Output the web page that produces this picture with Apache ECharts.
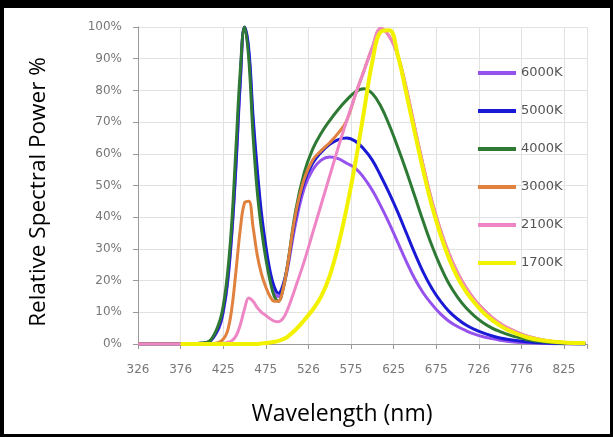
<!DOCTYPE html>
<html>
<head>
<meta charset="utf-8">
<script src="https://cdn.jsdelivr.net/npm/echarts@6/dist/echarts.min.js"></script>
<style>
  html, body { margin: 0; padding: 0; background: #fff; }
  #chart { position: absolute; left: 0; top: 0; width: 613px; height: 437px; }
  #frame { position: absolute; left: 0; top: 0; width: 613px; height: 437px; box-sizing: border-box;
           border-style: solid; border-color: #000; border-width: 8px 3px 3px 4px; pointer-events: none; }
</style>
</head>
<body>
<div id="chart"></div>
<div id="frame"></div>
<script>
"use strict";
// wavelengths (nm) shared by all curves
var wavelengths = [325, 350, 375, 400, 410, 420, 425, 430, 435, 440, 445, 450, 455, 460, 465, 470, 475, 480, 485, 490, 495, 500,
  510, 520, 530, 540, 550, 560, 570, 580, 590, 600, 610, 620, 630, 640, 650, 660, 670, 680, 690, 700,
  710, 720, 730, 740, 750, 760, 780, 800, 825, 850];

var k6000 = [0, 0, 0, 0.2, 1, 5, 10, 19, 34, 56, 82, 100, 92, 70, 53, 39, 29, 21, 16, 15, 17.5, 23,
  38, 49, 55, 58, 59, 58.5, 57, 55.5, 52.5, 48.5, 43.5, 38, 32, 26, 20.5, 16, 12.5, 9.5, 7.2, 5.5,
  4.2, 3.1, 2.3, 1.7, 1.2, 0.8, 0.4, 0.2, 0.05, 0];
var k5000 = [0, 0, 0, 0.2, 1, 5.5, 10.5, 19.5, 35, 57, 83, 100, 93, 72, 55, 41, 31, 23, 18, 16, 18.5, 24,
  40, 51, 57, 60.5, 63, 64.5, 65, 64, 61.5, 58, 53, 47.5, 41.5, 35, 28.5, 22.5, 17.5, 13.5, 10.3, 7.9,
  6, 4.6, 3.5, 2.6, 1.9, 1.4, 0.7, 0.3, 0.1, 0];
var k4000 = [0, 0, 0, 0.3, 1.2, 6.5, 12, 22, 38, 62, 86, 100, 90, 66, 48, 36, 27, 20, 15, 13.5, 17, 24,
  42, 54, 61.5, 66.5, 70.5, 74, 77, 79.5, 80.5, 79, 75, 69, 62, 54.5, 46.5, 38.5, 31, 24.5, 19, 14.8,
  11.4, 8.8, 6.7, 5.1, 3.9, 2.9, 1.5, 0.7, 0.2, 0];
var k3000 = [0, 0, 0, 0, 0, 0.5, 1.5, 4, 11, 23, 36, 44.5, 45, 37, 28, 22, 18, 15, 13.5, 13.5, 17, 24,
  41, 52, 58, 61, 63.5, 66.5, 70.5, 78.5, 86, 93.5, 99.5, 97, 91, 80.5, 68, 56, 45, 36, 28.5, 22.5,
  17.8, 14, 11, 8.5, 6.5, 4.9, 2.6, 1.3, 0.5, 0.3];
var k2100 = [0, 0, 0, 0, 0, 0, 0.2, 0.5, 1, 2.5, 6, 11, 14.5, 13.5, 11.5, 10, 9, 8, 7.2, 7, 8, 10.5,
  18, 26, 35, 44, 53, 62, 70.5, 78.5, 86, 93.5, 99.5, 97, 91, 80.5, 68, 56, 45, 36, 28.5, 22.5,
  17.8, 14, 11, 8.5, 6.5, 4.9, 2.6, 1.3, 0.5, 0.3];
var k1700 = [null, null, 0, 0, 0, 0, 0, 0, 0, 0, 0, 0, 0, 0, 0, 0.2, 0.3, 0.5, 0.7, 1, 1.5, 2.2,
  4.5, 7.5, 10.8, 15, 21.5, 31, 43, 57, 73, 89, 98.5, 99, 91, 79, 66.5, 54.5, 43.5, 34.5, 27, 21,
  16.5, 13, 10, 7.7, 5.8, 4.3, 2.2, 1.1, 0.5, 0.3];

var seriesNames = ['6000K', '5000K', '4000K', '3000K', '2100K', '1700K'];
var seriesValues = [k6000, k5000, k4000, k3000, k2100, k1700];
var seriesColors = ['#9652ee', '#1a1ad6', '#2e7a34', '#e0813e', '#ee86c6', '#f2f200'];
var seriesWidths = [3, 3, 3, 3, 3, 4];

var xTickLabels = ['326', '376', '425', '475', '526', '575', '625', '675', '726', '776', '825'];

function pairs(vals) {
  var out = [];
  for (var i = 0; i < wavelengths.length; i++) {
    if (vals[i] !== null) out.push([wavelengths[i], vals[i]]);
  }
  return out;
}

var chart = echarts.init(document.getElementById('chart'), null, {renderer: 'canvas'});

var series = seriesNames.map(function (name, i) {
  return {
    name: name,
    type: 'line',
    data: pairs(seriesValues[i]),
    smooth: 0.4,
    symbol: 'none',
    color: seriesColors[i],
    lineStyle: {width: seriesWidths[i], color: seriesColors[i]}
  };
});

var option = {
  animation: false,
  grid: {left: 138, top: 27, right: 26, bottom: 93},
  legend: {
    orient: 'vertical',
    left: 478,
    top: 66,
    padding: 0,
    icon: 'rect',
    itemWidth: 38,
    itemHeight: 4,
    itemGap: 24,
    textStyle: {color: '#555', fontSize: 13, lineHeight: 14, fontFamily: 'DejaVu Sans'},
    data: seriesNames
  },
  xAxis: {
    type: 'value',
    min: 325,
    max: 852,
    interval: 50,
    axisLine: {lineStyle: {color: '#999'}},
    axisTick: {show: true, length: 5, lineStyle: {color: '#999'}},
    axisLabel: {
      color: '#777', fontSize: 12, fontFamily: 'DejaVu Sans', margin: 20,
      formatter: function (v) {
        var k = Math.round((v - 325) / 50);
        if (Math.abs(v - (325 + k * 50)) > 0.01) return '';
        return xTickLabels[k] || '';
      }
    },
    splitLine: {show: true, lineStyle: {color: '#e2e2e2'}}
  },
  yAxis: {
    type: 'value',
    min: 0,
    max: 100,
    interval: 10,
    axisLine: {show: true, lineStyle: {color: '#999'}},
    axisTick: {show: true, length: 5, lineStyle: {color: '#999'}},
    axisLabel: {color: '#777', fontSize: 12, fontFamily: 'DejaVu Sans', margin: 16, formatter: '{value}%'},
    splitLine: {show: true, lineStyle: {color: '#e2e2e2'}}
  },
  graphic: [
    {
      type: 'text', x: 39, y: 192, rotation: Math.PI / 2,
      style: {text: 'Relative Spectral Power %', font: '22.5px "Open Sans"', fill: '#000',
               textAlign: 'center', textVerticalAlign: 'middle'}
    },
    {
      type: 'text', x: 342, y: 414,
      style: {text: 'Wavelength (nm)', font: '23px "Open Sans"', fill: '#000',
               textAlign: 'center', textVerticalAlign: 'middle'}
    }
  ],
  series: series
};

chart.setOption(option);
</script>
</body>
</html>
